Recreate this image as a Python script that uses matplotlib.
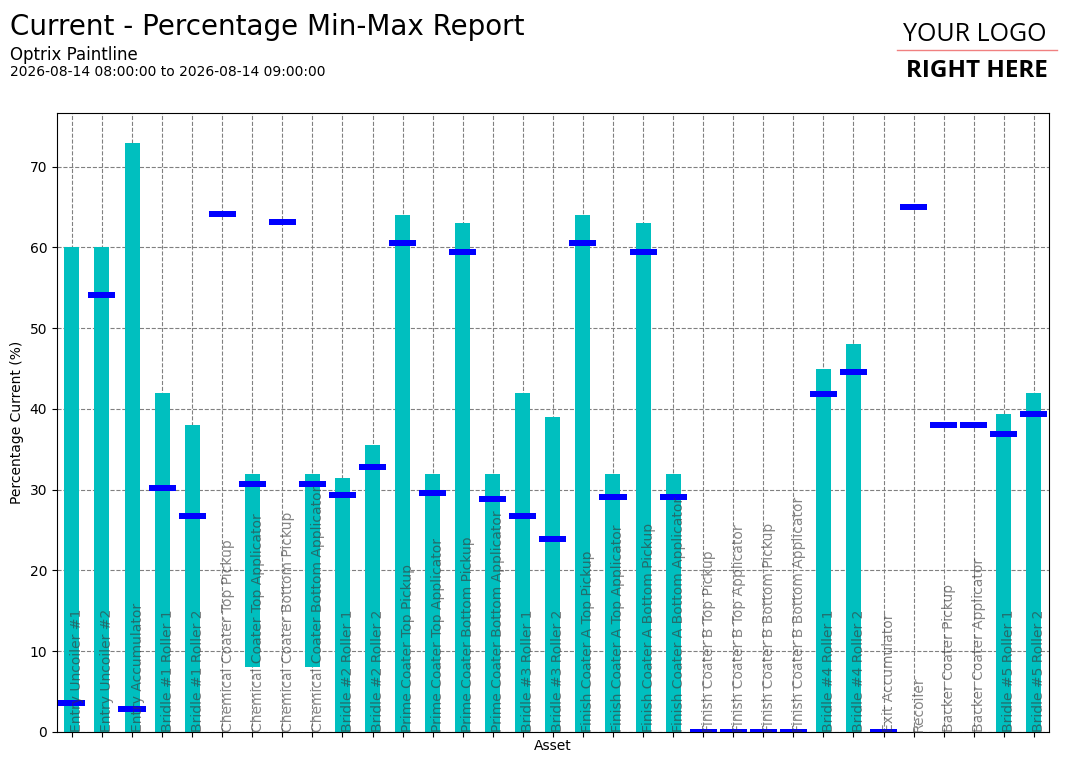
import matplotlib.pyplot as plt
import numpy as np

assets = [
    "Entry Uncoiler #1", "Entry Uncoiler #2", "Entry Accumulator",
    "Bridle #1 Roller 1", "Bridle #1 Roller 2",
    "Chemical Coater Top Pickup", "Chemical Coater Top Applicator",
    "Chemical Coater Bottom Pickup", "Chemical Coater Bottom Applicator",
    "Bridle #2 Roller 1", "Bridle #2 Roller 2",
    "Prime Coater Top Pickup", "Prime Coater Top Applicator",
    "Prime Coater Bottom Pickup", "Prime Coater Bottom Applicator",
    "Bridle #3 Roller 1", "Bridle #3 Roller 2",
    "Finish Coater A Top Pickup", "Finish Coater A Top Applicator",
    "Finish Coater A Bottom Pickup", "Finish Coater A Bottom Applicator",
    "Finish Coater B Top Pickup", "Finish Coater B Top Applicator",
    "Finish Coater B Bottom Pickup", "Finish Coater B Bottom Applicator",
    "Bridle #4 Roller 1", "Bridle #4 Roller 2",
    "Exit Accumulator", "Recoiler",
    "Backer Coater Pickup", "Backer Coater Applicator",
    "Bridle #5 Roller 1", "Bridle #5 Roller 2",
]

# min / max over the period (nan = no range recorded)
min_pct = [0, 0, 0, 0, 0, np.nan, 8, np.nan, 8, 0, 0, 0, 0, 0, 0, 0, 0,
           0, 0, 0, 0, np.nan, np.nan, np.nan, np.nan, 0, 0, np.nan, np.nan,
           np.nan, np.nan, 0, 0]
max_pct = [60, 60, 73, 42, 38, np.nan, 32, np.nan, 32, 31.5, 35.5, 64, 32, 63, 32, 42, 39,
           64, 32, 63, 32, np.nan, np.nan, np.nan, np.nan, 45, 48, np.nan, np.nan,
           np.nan, np.nan, 39.4, 42]
current_pct = [3.6, 54.1, 2.85, 30.2, 26.8, 64.1, 30.7, 63.1, 30.7, 29.4, 32.8,
               60.5, 29.6, 59.5, 28.9, 26.8, 23.9, 60.5, 29.1, 59.5, 29.1,
               0, 0, 0, 0, 41.8, 44.6, 0, 65.05, 38.0, 38.0, 36.9, 39.4]

x = np.arange(len(assets))
mins = np.array(min_pct, dtype=float)
maxs = np.array(max_pct, dtype=float)
cur = np.array(current_pct)

fig = plt.figure(figsize=(10.73, 7.64), dpi=100)
ax = fig.add_axes([0.053, 0.042, 0.9245, 0.81])

ax.bar(x, maxs - mins, bottom=mins, width=0.5, color='c', zorder=2)
ax.bar(x, 0.75, bottom=cur - 0.375, width=0.9, color='b', zorder=3)

for i, name in enumerate(assets):
    ax.text(i - 0.05, 0, name, rotation=90, ha='left', va='bottom',
            fontsize=10, color='#3a3a3a', alpha=0.62, zorder=4)

ax.set_xlim(-0.5, len(assets) - 0.5)
ax.set_ylim(0, 73 * 1.05)
ax.set_xticks(x)
ax.set_xticklabels([])
ax.set_axisbelow(True)
ax.grid(True, color='gray', linestyle='--')
ax.set_xlabel("Asset", labelpad=-2)
ax.set_ylabel("Percentage Current (%)")

fig.text(0.0093, 0.9548, "Current - Percentage Min-Max Report", fontsize=20, va='baseline')
fig.text(0.0093, 0.9215, "Optrix Paintline", fontsize=12, va='baseline')
fig.text(0.0093, 0.8999, "2026-08-14 08:00:00 to 2026-08-14 09:00:00", fontsize=10,
         va='baseline')

fig.text(0.9087, 0.9463, "YOUR LOGO", fontsize=18, family='Open Sans',
         ha='center', va='baseline')
fig.add_artist(plt.Line2D([0.836, 0.985], [0.9346, 0.9346], color='lightcoral', lw=1))
fig.text(0.9100, 0.8992, "RIGHT HERE", fontsize=17.5, family='Open Sans', weight='bold',
         ha='center', va='baseline')

plt.savefig("out.png")
